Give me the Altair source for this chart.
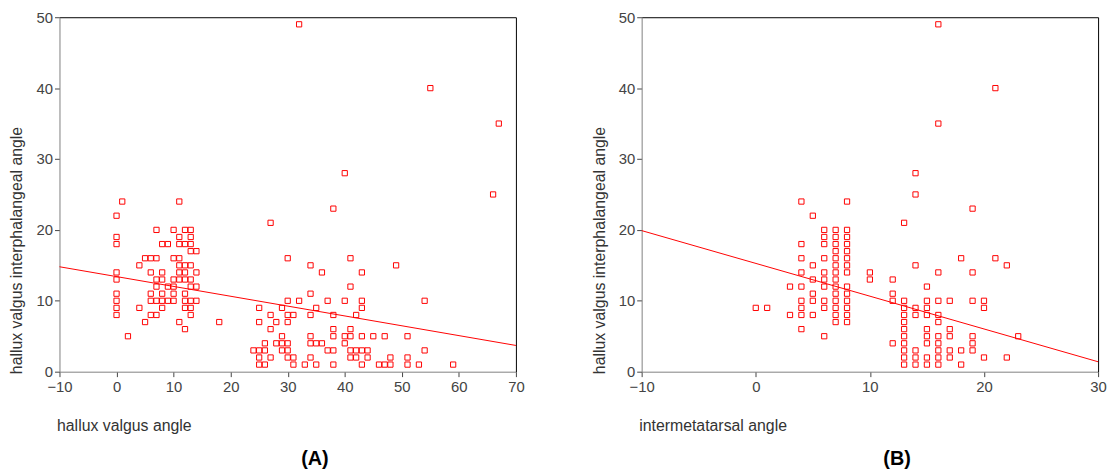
import altair as alt
import pandas as pd

# ---------------- Panel A: hallux valgus angle vs HVIP angle ----------------
a_x = [1, 11, 0,
       7, 10, 12, 13,
       0, 11, 13,
       0, 8, 9, 11, 12, 13,
       13, 14,
       5, 6, 7, 10, 11,
       4, 11, 12, 13,
       0, 6, 8, 11, 12, 14,
       0, 7, 8, 10, 11, 12, 13,
       7, 9, 10, 13, 14,
       0, 6, 8, 10, 12,
       0, 6, 7, 8, 9, 10, 12, 13, 14,
       0, 4, 8, 12, 13,
       0, 6, 7, 13,
       5, 11, 12, 2, 18,
       32, 55, 67, 40, 66, 38, 27, 30, 41, 34, 49, 36, 43, 41, 34,
       30, 32, 37, 40, 43, 54,
       25, 29, 35, 43,
       27, 30, 31, 34, 38, 42,
       25, 28, 30,
       27, 38, 41,
       29, 34, 38, 40, 41, 43, 45, 47, 51,
       26, 28, 29, 30, 34, 35, 36, 40,
       24, 25, 26, 29, 30, 37, 38, 41, 42, 43, 44, 54,
       25, 27, 30, 31, 34, 41, 42, 44, 48, 51,
       25, 26, 31, 33, 35, 38, 43, 46, 47, 48, 51, 53, 59]
a_y = [24, 24, 22,
       20, 20, 20, 20,
       19, 19, 19,
       18, 18, 18, 18, 18, 18,
       17, 17,
       16, 16, 16, 16, 16,
       15, 15, 15, 15,
       14, 14, 14, 14, 14, 14,
       13, 13, 13, 13, 13, 13, 13,
       12, 12, 12, 12, 12,
       11, 11, 11, 11, 11,
       10, 10, 10, 10, 10, 10, 10, 10, 10,
       9, 9, 9, 9, 9,
       8, 8, 8, 8,
       7, 7, 6, 5, 7,
       49, 40, 35, 28, 25, 23, 21, 16, 16, 15, 15, 14, 14, 12, 11,
       10, 10, 10, 10, 10, 10,
       9, 9, 9, 9,
       8, 8, 8, 8, 8, 8,
       7, 7, 7,
       6, 6, 6,
       5, 5, 5, 5, 5, 5, 5, 5, 5,
       4, 4, 4, 4, 4, 4, 4, 4,
       3, 3, 3, 3, 3, 3, 3, 3, 3, 3, 3, 3,
       2, 2, 2, 2, 2, 2, 2, 2, 2, 2,
       1, 1, 1, 1, 1, 1, 1, 1, 1, 1, 1, 1, 1]
a_line_x = [-10, 70]
a_line_y = [14.8, 3.7]
a_ticks = [-10, 0, 10, 20, 30, 40, 50, 60, 70]

# ---------------- Panel B: intermetatarsal angle vs HVIP angle ----------------
b_x = [16, 21, 16, 14, 14,
       4, 8, 5, 19, 13,
       6, 7, 8,
       6, 7, 8,
       4, 6, 7, 8,
       7, 8,
       4, 6, 7, 8, 18, 21,
       5, 7, 8, 14, 22,
       4, 6, 7, 8, 10, 16, 19,
       5, 6, 7, 10, 12,
       3, 4, 6, 7, 8, 15,
       5, 7, 8, 12,
       4, 5, 6, 7, 8, 12, 13, 15, 16, 17, 19, 20,
       0, 1, 4, 6, 7, 8, 13, 14, 15, 20,
       3, 4, 5, 7, 8, 13, 14, 15, 16,
       7, 8, 13, 16,
       4, 13, 15, 17,
       6, 13, 15, 16, 17, 19, 23,
       12, 13, 15, 16, 19,
       13, 14, 16, 17, 18, 19,
       13, 14, 15, 16, 17, 20, 22,
       13, 14, 15, 16, 18]
b_y = [49, 40, 35, 28, 25,
       24, 24, 22, 23, 21,
       20, 20, 20,
       19, 19, 19,
       18, 18, 18, 18,
       17, 17,
       16, 16, 16, 16, 16, 16,
       15, 15, 15, 15, 15,
       14, 14, 14, 14, 14, 14, 14,
       13, 13, 13, 13, 13,
       12, 12, 12, 12, 12, 12,
       11, 11, 11, 11,
       10, 10, 10, 10, 10, 10, 10, 10, 10, 10, 10, 10,
       9, 9, 9, 9, 9, 9, 9, 9, 9, 9,
       8, 8, 8, 8, 8, 8, 8, 8, 8,
       7, 7, 7, 7,
       6, 6, 6, 6,
       5, 5, 5, 5, 5, 5, 5,
       4, 4, 4, 4, 4,
       3, 3, 3, 3, 3, 3,
       2, 2, 2, 2, 2, 2, 2,
       1, 1, 1, 1, 1]
b_line_x = [-10, 30]
b_line_y = [19.9, 1.4]
b_ticks = [-10, 0, 10, 20, 30]

y_ticks = [0, 10, 20, 30, 40, 50]
y_title = "hallux valgus interphalangeal angle"

FONT = "Liberation Sans"
W, H = 461, 358


def panel(xs, ys, lx, ly, xdom, xticks, xtitle, label):
    df = pd.DataFrame({"x": xs, "y": ys})
    ldf = pd.DataFrame({"x": lx, "y": ly})
    xscale = alt.Scale(domain=xdom, nice=False, zero=False)
    yscale = alt.Scale(domain=[0, 50], nice=False, zero=False)
    xaxis = alt.Axis(values=xticks, title=xtitle, grid=False, tickSize=5,
                     labelFontSize=15, labelColor="#444444", labelPadding=3,
                     domainColor="#808080", tickColor="#444444",
                     titleFontSize=16, titleFontWeight="normal", titleColor="#333333",
                     titleAnchor="start", titleAlign="left", titleX=-3, titleY=54,
                     titleBaseline="middle", labelFlush=False)
    yaxis = alt.Axis(values=y_ticks, title=y_title, grid=False, tickSize=5,
                     labelFontSize=15, labelColor="#444444", labelPadding=2,
                     domainColor="#808080", tickColor="#444444",
                     titleFontSize=16, titleFontWeight="normal", titleColor="#333333",
                     titleAngle=270, titleAlign="left", titleBaseline="middle",
                     titleX=-43, titleY=360, labelFlush=False)
    # frame lines on top and right (axes without ticks or labels)
    top_axis = alt.Axis(orient="top", labels=False, ticks=False, grid=False,
                        title=None, domainColor="#000000", domainWidth=1)
    right_axis = alt.Axis(orient="right", labels=False, ticks=False, grid=False,
                          title=None, domainColor="#000000", domainWidth=1)
    pts = alt.Chart(df).mark_square(filled=False, size=28, color="#ff0000",
                                    strokeWidth=1, opacity=1).encode(
        x=alt.X("x:Q", scale=xscale, axis=xaxis),
        y=alt.Y("y:Q", scale=yscale, axis=yaxis),
    )
    line = alt.Chart(ldf).mark_line(color="#ff0000", strokeWidth=1).encode(
        x=alt.X("x:Q", scale=xscale, axis=top_axis),
        y=alt.Y("y:Q", scale=yscale, axis=right_axis),
    )
    lab = alt.Chart(pd.DataFrame({"t": [label]})).mark_text(
        fontSize=20, fontWeight="bold", font=FONT, color="#000000",
        align="center", baseline="middle").encode(
        x=alt.value(258), y=alt.value(446), text="t:N")
    return alt.layer(pts, line, lab).resolve_axis(
        x="independent", y="independent"
    ).properties(width=W, height=H)


chart_a = panel(a_x, a_y, a_line_x, a_line_y, [-10, 70], a_ticks,
                "hallux valgus angle", "(A)")
chart_b = panel(b_x, b_y, b_line_x, b_line_y, [-10, 30], b_ticks,
                "intermetatarsal angle", "(B)")

chart = alt.hconcat(chart_a, chart_b, spacing=127, bounds="flush").properties(
    padding=0, background="white"
).configure(
    font=FONT
).configure_view(strokeWidth=0)

chart.save("out.html", embed_options={"renderer": "svg", "actions": False})
